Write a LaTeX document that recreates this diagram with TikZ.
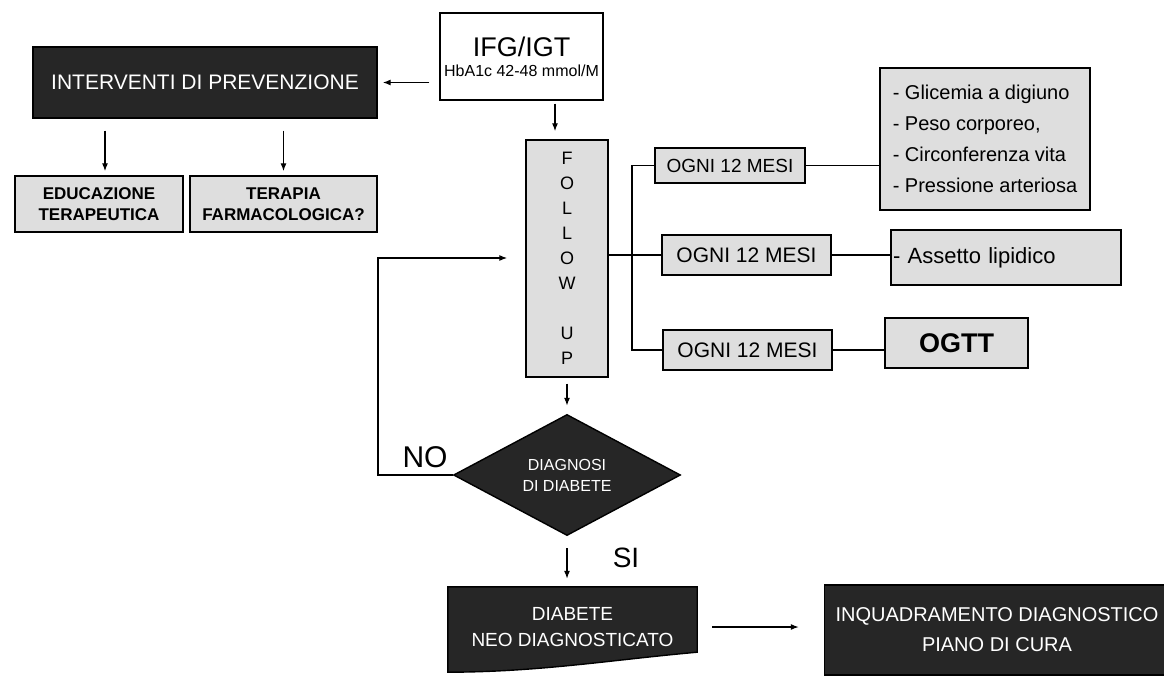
\documentclass[tikz,border=0pt]{standalone}
\usepackage{fontspec}
\setmainfont{Liberation Sans}
\usepackage{tikz}
\usetikzlibrary{shapes.geometric,arrows.meta,backgrounds}
\newdimen\unitsize
\setlength{\unitsize}{1pt}

\begin{document}
\begin{tikzpicture}[x=\unitsize,y=-\unitsize]
\tikzset{box/.style={draw,line width=1.4pt,fill=black!13,inner sep=2pt,align=center}}%
\tikzset{darkbox/.style={draw,line width=1.4pt,fill=black!85,text=white,inner sep=2pt,align=center}}%
\tikzset{edge/.style={line width=1.2pt}}%
\tikzset{arrow/.style={edge,-{Latex[length=8pt,width=6pt]}}}%
\useasboundingbox (0,0) rectangle (1164,679);
% top
\node[box,fill=white,minimum width=163,minimum height=87] (ifg) at (521.5,56.5)
  {\fontsize{27}{30}\selectfont IFG/IGT\\[8pt]\fontsize{16}{18}\selectfont HbA1c 42-48 mmol/M};
\node[darkbox,minimum width=344,minimum height=71,font=\fontsize{21}{24}\selectfont] (prev) at (205,82.5) {INTERVENTI DI PREVENZIONE};
\node[box,minimum width=168,minimum height=56,font=\bfseries\fontsize{17}{21}\selectfont] (edu) at (99,204) {EDUCAZIONE\\TERAPEUTICA};
\node[box,minimum width=187,minimum height=56,font=\bfseries\fontsize{17}{21}\selectfont] (ter) at (283.5,204) {TERAPIA\\FARMACOLOGICA?};
\draw[arrow,shorten <=10pt,shorten >=5pt] (ifg.west |- prev.east) -- (prev.east);
\draw[arrow,shorten <=12pt,shorten >=4pt] ([xshift=6pt]prev.south -| edu.north) -- ([xshift=6pt]edu.north);
\draw[arrow,shorten <=12pt,shorten >=4pt] (prev.south -| ter.north) -- (ter.north);
% follow up
\node[box,minimum width=82,minimum height=237,font=\fontsize{18}{25}\selectfont] (fu) at (567,258.5) {F\\O\\L\\L\\O\\W\\[25pt]U\\P};
\draw[arrow,shorten <=3pt,shorten >=8pt] ([xshift=-12pt]fu.north |- ifg.south) -- ([xshift=-12pt]fu.north);
% controls
\node[box,minimum width=150,minimum height=35,font=\fontsize{19}{22}\selectfont] (ogni1) at (730,165.5) {OGNI 12 MESI};
\node[box,minimum width=169,minimum height=40,font=\fontsize{21}{24}\selectfont] (ogni2) at (746.5,255) {OGNI 12 MESI};
\node[box,minimum width=169,minimum height=40,font=\fontsize{21}{24}\selectfont] (ogni3) at (747.5,350) {OGNI 12 MESI};
\node[box,align=left,minimum width=210,minimum height=142,font=\fontsize{20}{31}\selectfont] (glic) at (985,139)
  {- Glicemia a digiuno\\- Peso corporeo,\\- Circonferenza vita\\- Pressione arteriosa};
\node[box,align=left,text width=226,minimum height=55,font=\fontsize{22}{26}\selectfont] (lip) at (1006,257.5) {- Assetto lipidico};
\node[box,minimum width=143,minimum height=50,font=\bfseries\fontsize{27}{30}\selectfont] (ogtt) at (956.5,343) {OGTT};
\coordinate (bt) at (632,165.5);
\coordinate (bb) at (632,350);
\draw[edge] (ogni1.west) -- (bt) -- (bb) -- (ogni3.west);
\draw[edge] (fu.east |- ogni2.west) -- (ogni2.west);
\draw[edge] (ogni1.east) -- (ogni1.east -| glic.west);
\draw[edge] (ogni2.east) -- (ogni2.east -| lip.west);
\draw[edge] (ogni3.east) -- (ogni3.east -| ogtt.west);
% decision
\node[diamond,draw,line width=1.4pt,fill=black!85,text=white,inner sep=0pt,minimum width=227,minimum height=105,align=center,font=\fontsize{16}{21}\selectfont] (diag) at (567,475) {DIAGNOSI\\DI DIABETE};
\draw[arrow,shorten <=6pt,shorten >=8pt] (fu.south) -- (diag.north);
\coordinate (loop) at (378,258);
\draw[arrow,shorten >=18pt] (diag.west) -| (loop) -- (loop -| fu.west);
\node[font=\fontsize{30}{32}\selectfont] (no) at (425,457) {NO};
\node[font=\fontsize{28}{30}\selectfont] (si) at (626,558) {SI};
% outcome
\node[text=white,align=center,minimum width=249,minimum height=80,font=\fontsize{19}{26}\selectfont] (dia) at (572.5,627) {DIABETE\\NEO DIAGNOSTICATO};
\begin{scope}[on background layer]
\filldraw[line width=1.4pt,fill=black!85] (dia.north west) -- (dia.north east) -- ([yshift=15pt]dia.south east)
  .. controls (610,660) and (540,672) .. ([yshift=-5pt]dia.south west) -- cycle;
\end{scope}
\draw[arrow,shorten <=12pt,shorten >=8pt] (diag.south) -- (diag.south |- dia.north);
\node[darkbox,minimum width=345,minimum height=90,font=\fontsize{20}{30}\selectfont] (inq) at (997,630) {INQUADRAMENTO DIAGNOSTICO\\PIANO DI CURA};
\draw[arrow,shorten <=15pt,shorten >=25pt] (dia.east) -- (dia.east -| inq.west);
\end{tikzpicture}
\end{document}
